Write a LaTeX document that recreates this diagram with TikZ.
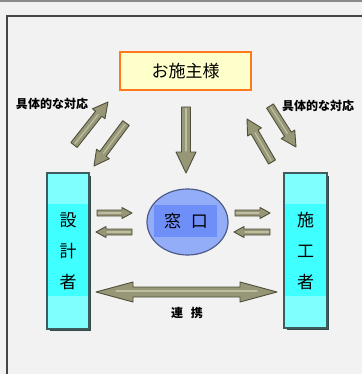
\documentclass[tikz,border=0pt]{standalone}
\usepackage{fontspec}
\setmainfont{Noto Sans CJK JP}
\usetikzlibrary{calc,shapes.geometric}
\definecolor{bgc}{HTML}{F2F2F2}
\definecolor{framec}{HTML}{444444}
\definecolor{topline}{HTML}{8A8A8A}
\definecolor{orangec}{HTML}{FF7A1A}
\definecolor{creamc}{HTML}{FFFFCC}
\definecolor{cyanL}{HTML}{80FFFF}
\definecolor{cyanM}{HTML}{40FFFF}
\definecolor{boxline}{HTML}{3E5C5C}
\definecolor{ellfill}{HTML}{93ADF8}
\definecolor{ellline}{HTML}{4E5C88}
\definecolor{innerblue}{HTML}{6E8EF8}
\definecolor{arrfill}{HTML}{979777}
\definecolor{arrline}{HTML}{4E4E3A}
\definecolor{arrhl}{HTML}{BDBDA2}
\tikzset{
  arrowbody/.style={fill=arrfill, draw=arrline, line width=0.9pt, line join=round},
  arrowhl/.style={draw=arrhl, line width=1.3pt, line cap=round},
  sidebox/.style={draw=boxline, line width=1.3pt, minimum width=42pt, minimum height=156pt, inner sep=0pt},
  boxtext/.style={font=\fontsize{17}{31}\selectfont, align=center, text=black},
  lbl/.style={font=\bfseries\fontsize{12}{14}\selectfont, text=black}
}
\newcommand\blockarr[5]{%
  \coordinate (bac) at ($(#2)!#5!(#1)$);
  \filldraw[arrowbody] ($(#1)!#3!90:(#2)$) -- ($(bac)!#3!90:(#2)$) -- ($(bac)!#4!90:(#2)$) -- (#2) -- ($(bac)!#4!-90:(#2)$) -- ($(bac)!#3!-90:(#2)$) -- ($(#1)!#3!-90:(#2)$) -- cycle;
  \draw[arrowhl] ($(#1)!1.5pt!(#2)$) -- ($(bac)!1pt!(#1)$);
}
\begin{document}
\begin{tikzpicture}[x=1pt,y=-1pt]
\useasboundingbox (0,0) rectangle (362,374);
\fill[bgc] (0,0) rectangle (362,374);
\draw[topline, line width=1.5pt] (0,1) -- (362,1);
\draw[framec, line width=1.5pt] (7,374) -- (7,16) -- (362,16);

% top box
\node[draw=orangec, fill=creamc, line width=2.2pt, minimum width=131pt, minimum height=38pt, inner sep=0pt,
      font=\fontsize{17}{20}\selectfont] (client) at (185.5,71) {お施主様};

% side boxes
\fill[boxline!80!black] (49.5,175.5) rectangle (91,331);
\fill[cyanL] (47,173) rectangle (89,329);
\fill[cyanM] (47,204) rectangle (89,296);
\node[sidebox] (designer) at (68,251) {};
\node[boxtext] (designertxt) at (68,251) {設\\計\\者};

\fill[boxline!80!black] (286.5,175.5) rectangle (329,330);
\fill[cyanL] (284,173) rectangle (327,328);
\fill[cyanM] (284,204) rectangle (327,296);
\node[sidebox, minimum width=43pt, minimum height=155pt] (builder) at (305.5,250.5) {};
\node[boxtext] (buildertxt) at (305.5,251) {施\\工\\者};

% window ellipse
\node[ellipse, draw=ellline, fill=ellfill, line width=1.2pt, minimum width=81pt, minimum height=66pt, inner sep=0pt] (window) at (187.5,222) {};
\fill[innerblue] (154,205) rectangle (217,237);
\node[font=\fontsize{17}{20}\selectfont] (windowtxt) at (186,221) {窓\hspace{10pt}口};

% labels
\node[lbl] (lblL) at (52,104) {具体的な対応};
\node[lbl] (lblR) at (318,106) {具体的な対応};
\node[lbl] (lblC) at (187,313) {連\hspace{8pt}携};

% arrow coordinates
\coordinate (cA) at (186,107);
\coordinate (cB) at (186,173);
\coordinate (l1a) at (74,145);
\coordinate (l1b) at (108,102);
\coordinate (l2a) at (126,123);
\coordinate (l2b) at (94,166);
\coordinate (r1a) at (270,106);
\coordinate (r1b) at (296,147);
\coordinate (r2a) at (272,162);
\coordinate (r2b) at (247,119);
\coordinate (h1a) at (97,213);
\coordinate (h1b) at (132,213);
\coordinate (h2a) at (132,232);
\coordinate (h2b) at (96,232);
\coordinate (h3a) at (235,213);
\coordinate (h3b) at (270,213);
\coordinate (h4a) at (270,232);
\coordinate (h4b) at (234,232);

\blockarr{cA}{cB}{4.5pt}{10pt}{21pt}
\blockarr{l1a}{l1b}{4pt}{8pt}{15pt}
\blockarr{l2a}{l2b}{4pt}{8pt}{15pt}
\blockarr{r1a}{r1b}{4pt}{8pt}{15pt}
\blockarr{r2a}{r2b}{4pt}{8pt}{15pt}
\blockarr{h1a}{h1b}{3pt}{5.5pt}{10pt}
\blockarr{h2a}{h2b}{3pt}{5.5pt}{10pt}
\blockarr{h3a}{h3b}{3pt}{5.5pt}{10pt}
\blockarr{h4a}{h4b}{3pt}{5.5pt}{10pt}

% double arrow
\coordinate (dA) at (96,292);
\coordinate (dB) at (277,292);
\filldraw[arrowbody] (dA) -- ($(dA)+(37,-10)$) -- ($(dA)+(37,-5)$) -- ($(dB)+(-37,-5)$) -- ($(dB)+(-37,-10)$) -- (dB)
  -- ($(dB)+(-37,10)$) -- ($(dB)+(-37,5)$) -- ($(dA)+(37,5)$) -- ($(dA)+(37,10)$) -- cycle;
\draw[arrowhl] ($(dA)+(20,-1)$) -- ($(dB)+(-20,-1)$);
\end{tikzpicture}
\end{document}
